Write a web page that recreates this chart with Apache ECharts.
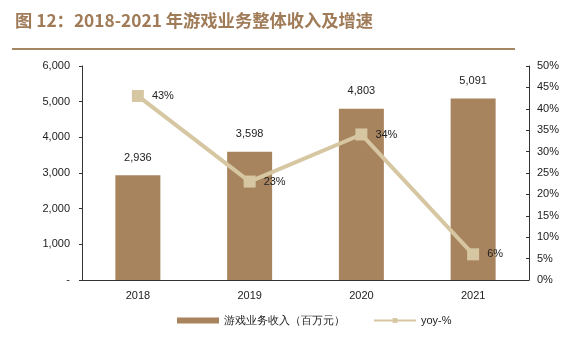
<!DOCTYPE html>
<html><head><meta charset="utf-8">
<script src="https://cdn.jsdelivr.net/npm/echarts@6/dist/echarts.min.js"></script>
<style>html,body{margin:0;padding:0;background:#fff;}#t{position:absolute;left:15px;top:7px;font:bold 17.3px "Noto Sans CJK SC",sans-serif;color:#a07b58;}#ln{position:absolute;left:12px;top:48px;width:503px;height:2px;background:#a68563;}#c{position:absolute;left:0;top:0;width:572px;height:339px;}</style>
</head><body>
<div id="c"></div>
<div id="t">图 12：2018-2021 年游戏业务整体收入及增速</div>
<div id="ln"></div>
<script>
const categories = ['2018', '2019', '2020', '2021'];
const revenue = [2936, 3598, 4803, 5091];
const yoy = [43, 23, 34, 6];
const barName = '游戏业务收入（百万元）';
const lineName = 'yoy-%';

const chart = echarts.init(document.getElementById('c'));
const fnt = 'Liberation Sans, Arial, sans-serif';
chart.setOption({
  animation: false,
  grid: {left: 82, right: 43, top: 66, bottom: 59},
  legend: {
    bottom: 8, left: 172, itemGap: 28, itemWidth: 42, itemHeight: 6,
    textStyle: {fontSize: 11, color: '#222', fontFamily: fnt},
    data: [{name: barName, icon: 'rect'}, {name: lineName}]
  },
  xAxis: {
    type: 'category', data: categories,
    axisLine: {lineStyle: {color: '#333'}},
    axisTick: {show: false},
    axisLabel: {fontSize: 11, color: '#222', fontFamily: fnt, margin: 10}
  },
  yAxis: [{
    type: 'value', min: 0, max: 6000, interval: 1000,
    axisLine: {show: true, lineStyle: {color: '#333'}},
    axisTick: {show: true, length: 3},
    splitLine: {show: false},
    axisLabel: {fontSize: 11, color: '#222', fontFamily: fnt, margin: 12,
      formatter: v => v === 0 ? '-' : v.toLocaleString('en-US')}
  }, {
    type: 'value', min: 0, max: 50, interval: 5,
    axisLine: {show: true, lineStyle: {color: '#333'}},
    axisTick: {show: true, inside: true, length: 3},
    splitLine: {show: false},
    axisLabel: {fontSize: 11, color: '#222', fontFamily: fnt, margin: 8, formatter: '{value}%'}
  }],
  series: [{
    name: barName, type: 'bar', data: revenue, barWidth: 45,
    itemStyle: {color: '#a8845e'},
    label: {show: true, position: 'top', distance: 12, fontSize: 11, color: '#222', fontFamily: fnt,
      formatter: p => p.value.toLocaleString('en-US')}
  }, {
    name: lineName, type: 'line', yAxisIndex: 1, data: yoy,
    symbol: 'rect', symbolSize: 12,
    lineStyle: {color: '#d6c7a2', width: 4},
    itemStyle: {color: '#d6c7a2'},
    label: {show: true, position: 'right', distance: 8, fontSize: 11, color: '#222', fontFamily: fnt,
      formatter: '{c}%'}
  }]
});
</script>
</body></html>
